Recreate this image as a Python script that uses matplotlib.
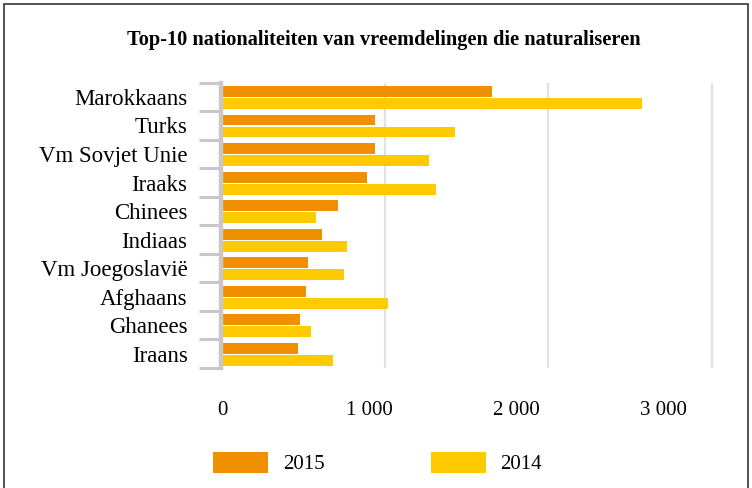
import matplotlib
matplotlib.use("Agg")
import matplotlib.pyplot as plt
import matplotlib.transforms as mtransforms
from matplotlib.patches import Rectangle
import numpy as np

plt.rcParams['font.family'] = ['Liberation Serif', 'DejaVu Serif']

# data
nationalities = ['Marokkaans', 'Turks', 'Vm Sovjet Unie', 'Iraaks', 'Chinees',
                 'Indiaas', 'Vm Joegoslavië', 'Afghaans', 'Ghanees', 'Iraans']
values_2015 = [1660, 940, 940, 895, 715, 620, 530, 520, 485, 470]
values_2014 = [2575, 1430, 1270, 1315, 580, 770, 755, 1020, 550, 685]
xticks = [0, 1000, 2000, 3000]
xticklabels = ['0', '1 000', '2 000', '3 000']

c2015 = '#f09000'
c2014 = '#ffcb00'
gray = '#c8c8c8'

W, H = 752, 488
fig = plt.figure(figsize=(W / 100, H / 100), dpi=100)

# axes placed in pixel terms
left, right_px = 221, 221 + 3100 * 0.1635
bottom, top = 488 - 368, 488 - 82.7
ax = fig.add_axes([left / W, bottom / H, (right_px - left) / W, (top - bottom) / H])

y = np.arange(len(nationalities))
h = 0.38
b1 = ax.barh(y - 0.19, values_2015, height=h, color=c2015, label='2015', zorder=3)
b2 = ax.barh(y + 0.23, values_2014, height=h, color=c2014, label='2014', zorder=3)

ax.set_xlim(0, 3100)
ax.set_ylim(len(nationalities) - 0.5, -0.5)

ax.set_xticks(xticks)
ax.set_xticklabels(xticklabels, fontsize=15)
ax.tick_params(axis='x', length=0, pad=24)
# labels in the source sit a bit left of their gridlines
for k, lab in enumerate(ax.get_xticklabels()):
    off = mtransforms.ScaledTranslation(-16.5 * k / 100 + 0.01, 0, fig.dpi_scale_trans)
    lab.set_transform(lab.get_transform() + off)

ax.set_yticks(y)
ax.set_yticklabels(nationalities, fontsize=16.5)
ax.set_yticks(np.arange(-0.5, len(nationalities)), minor=True)
ax.tick_params(axis='y', which='major', length=0, pad=24)
ax.tick_params(axis='y', which='minor', length=16, width=2.2, color=gray, direction='out')

ax.grid(axis='x', color='#e2e2e2', linewidth=1.6, zorder=0)
for s in ['top', 'right', 'bottom']:
    ax.spines[s].set_visible(False)
ax.spines['left'].set_color(gray)
ax.spines['left'].set_linewidth(3.2)
ax.spines['left'].set_zorder(4)

fig.text(384 / W, 1 - 40 / H, 'Top-10 nationaliteiten van vreemdelingen die naturaliseren',
         ha='center', va='center', fontsize=14.7, fontweight='bold')

fig.legend(handles=[b1, b2], loc='center left', bbox_to_anchor=(213 / W, 1 - 463 / H),
           ncol=2, frameon=False, fontsize=15, borderpad=0, borderaxespad=0,
           handlelength=2.65, handleheight=1.2, handletextpad=0.7, columnspacing=5.1)

# outer frame
fig.patches.append(Rectangle((4 / W, -0.1), 744 / W, 1.1 - 4 / H, transform=fig.transFigure,
                             fill=False, edgecolor='#333333', linewidth=1.2))

fig.savefig('out.png', dpi=100)
